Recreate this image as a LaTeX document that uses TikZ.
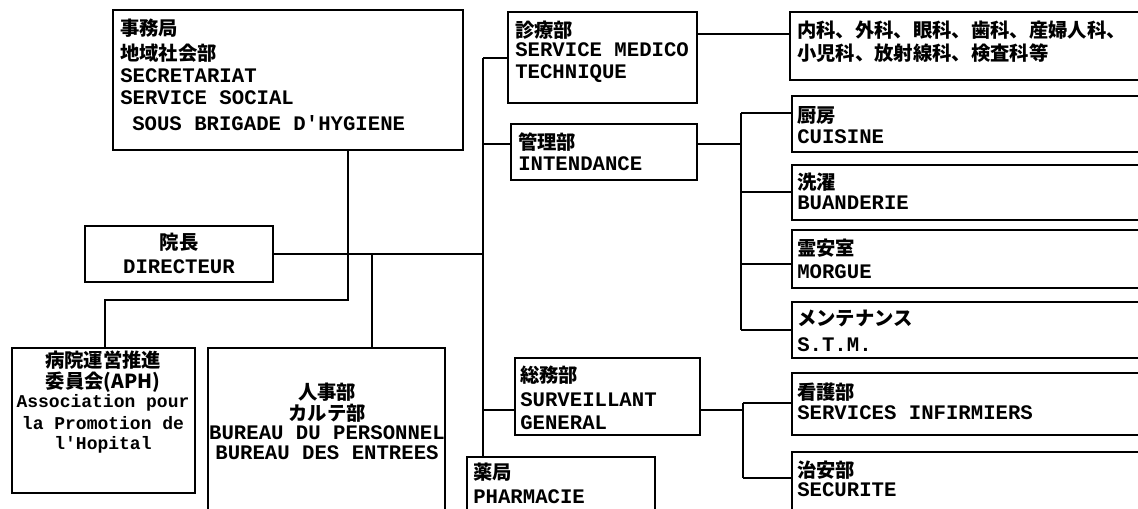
\documentclass[tikz,border=0pt]{standalone}
\usepackage{fontspec}
\newfontfamily\jpfam{Noto Sans CJK JP}
\newfontfamily\monofam{Liberation Mono}
\usetikzlibrary{fit}
\newcommand{\jpf}{\jpfam\bfseries\fontsize{14.5pt}{17pt}\selectfont}
\newcommand{\ltf}{\monofam\bfseries\fontsize{15.5pt}{18pt}\selectfont}
\newcommand{\aphf}{\monofam\bfseries\fontsize{13.5pt}{16pt}\selectfont}
\begin{document}
\begin{tikzpicture}[x=0.75pt,y=-0.75pt,
  box/.style={draw,line width=1.5pt,inner sep=0pt},
  conn/.style={line width=1.5pt},
  jl/.style={font=\jpf,anchor=west,inner sep=0pt},
  ll/.style={font=\ltf,anchor=west,inner sep=0pt},
  jc/.style={font=\jpf,inner sep=0pt},
  lc/.style={font=\ltf,inner sep=0pt},
  ac/.style={font=\aphf,inner sep=0pt}]
\useasboundingbox (0,0) rectangle (1138,509);
\fill[white] (0,0) rectangle (1138,509);
\clip (0,0) rectangle (1138,509);

% boxes
\node[box,fit={(113,10) (463,150)}] (sec) {};
\node[box,fit={(508,12) (697,103)}] (med) {};
\node[box,fit={(511,124) (697,180)}] (adm) {};
\node[box,fit={(515,358) (700,435)}] (gen) {};
\node[box,fit={(467,457) (655,530)}] (pha) {};
\node[box,fit={(85,226) (273,282)}] (dir) {};
\node[box,fit={(12,348) (195,493)}] (aph) {};
\node[box,fit={(208,348) (445,530)}] (per) {};
\node[box,fit={(790,12) (1150,80)}] (dep) {};
\node[box,fit={(792,96) (1150,152)}] (cui) {};
\node[box,fit={(792,165) (1150,220)}] (bua) {};
\node[box,fit={(792,230) (1150,288)}] (mor) {};
\node[box,fit={(792,302) (1150,358)}] (stm) {};
\node[box,fit={(792,373) (1150,435)}] (inf) {};
\node[box,fit={(792,452) (1150,530)}] (scu) {};

% texts
\node[jl] (secA) at (120,28) {事務局};
\node[jl] (secB) at (120,53) {地域社会部};
\node[ll] (secC) at (120,76) {SECRETARIAT};
\node[ll] (secD) at (120,98) {SERVICE SOCIAL};
\node[ll] (secE) at (132,123) {SOUS BRIGADE D'HYGIENE};

\node[jl] (medA) at (515,30) {診療部};
\node[ll] (medB) at (515,50) {SERVICE MEDICO};
\node[ll] (medC) at (515,74) {TECHNIQUE};

\node[jl] (admA) at (518,142) {管理部};
\node[ll] (admB) at (518,164) {INTENDANCE};

\node[jl] (genA) at (520,375) {総務部};
\node[ll] (genB) at (520,400) {SURVEILLANT};
\node[ll] (genC) at (520,423) {GENERAL};

\node[jl] (phaA) at (473,472) {薬局};
\node[ll] (phaB) at (473,497) {PHARMACIE};

\node[jc] (dirA) at (179,242) {院長};
\node[lc] (dirB) at (179,267) {DIRECTEUR};

\node[jc] (aphA) at (103,360) {病院運営推進};
\node[jc] (aphB) at (103,382) {委員会(APH)};
\node[ac] (aphC) at (103,403) {Association pour};
\node[ac] (aphD) at (103,423) {la Promotion de};
\node[ac] (aphE) at (103,445) {l'Hopital};

\node[jc] (perA) at (327,392) {人事部};
\node[jc] (perB) at (327,413) {カルテ部};
\node[lc] (perC) at (327,433) {BUREAU DU PERSONNEL};
\node[lc] (perD) at (327,453) {BUREAU DES ENTREES};

\node[jl] (depA) at (797,30) {内科、外科、眼科、歯科、産婦人科、};
\node[jl] (depB) at (797,53) {小児科、放射線科、検査科等};
\node[jl] (cuiA) at (797,115) {厨房};
\node[ll] (cuiB) at (797,137) {CUISINE};
\node[jl] (buaA) at (797,182) {洗濯};
\node[ll] (buaB) at (797,203) {BUANDERIE};
\node[jl] (morA) at (797,248) {霊安室};
\node[ll] (morB) at (797,272) {MORGUE};
\node[jl] (stmA) at (797,318) {メンテナンス};
\node[ll] (stmB) at (797,345) {S.T.M.};
\node[jl] (infA) at (797,392) {看護部};
\node[ll] (infB) at (797,413) {SERVICES INFIRMIERS};
\node[jl] (scuA) at (797,470) {治安部};
\node[ll] (scuB) at (797,490) {SECURITE};

% junction coordinates
\coordinate (j1) at (348,300);
\coordinate (j2) at (105,300);
\coordinate (j3) at (372,254);
\coordinate (t0) at (483,58);
\coordinate (t1) at (483,144);
\coordinate (t2) at (483,410);
\coordinate (tD) at (483,254);
\coordinate (r0) at (0,34);
\coordinate (b1) at (741,113);
\coordinate (b2) at (741,192);
\coordinate (b3) at (741,264);
\coordinate (b4) at (741,330);
\coordinate (bm) at (741,144);
\coordinate (c1) at (743,403);
\coordinate (c2) at (743,478);
\coordinate (cm) at (743,410);

% connectors
\draw[conn] (sec.south -| j1) -- (j1) -- (j2) -- (aph.north -| j2);
\draw[conn] (dir.east) -- (tD);
\draw[conn] (j3) -- (per.north -| j3);
\draw[conn] (t0) -- (pha.north -| t0);
\draw[conn] (t0) -- (med.west |- t0);
\draw[conn] (t1) -- (adm.west |- t1);
\draw[conn] (t2) -- (gen.west |- t2);
\draw[conn] (med.east |- r0) -- (dep.west |- r0);
\draw[conn] (adm.east |- bm) -- (bm);
\draw[conn] (b1) -- (b4);
\draw[conn] (b1) -- (cui.west |- b1);
\draw[conn] (b2) -- (bua.west |- b2);
\draw[conn] (b3) -- (mor.west |- b3);
\draw[conn] (b4) -- (stm.west |- b4);
\draw[conn] (gen.east |- cm) -- (cm);
\draw[conn] (c1) -- (c2);
\draw[conn] (c1) -- (inf.west |- c1);
\draw[conn] (c2) -- (scu.west |- c2);
\end{tikzpicture}
\end{document}
